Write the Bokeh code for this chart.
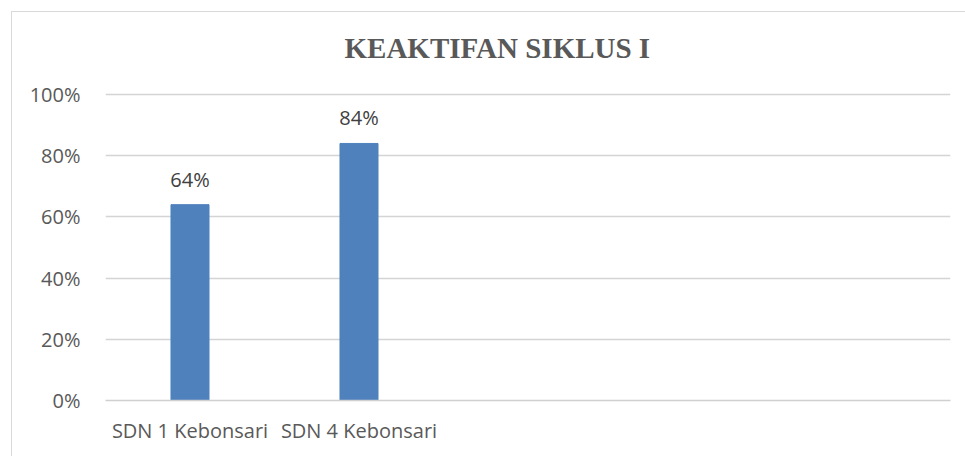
from bokeh.plotting import figure
from bokeh.models import FactorRange, Range1d, NumeralTickFormatter, ColumnDataSource, FixedTicker, LabelSet
from bokeh.core.properties import value
from bokeh.embed import file_html
from bokeh.resources import INLINE

title_text = "KEAKTIFAN SIKLUS I"
categories = ["SDN 1 Kebonsari", "SDN 4 Kebonsari"]
values = [0.64, 0.84]
value_labels = ["64%", "84%"]
empty_slots = [" ", "  ", "   "]
y_ticks = [0, 0.2, 0.4, 0.6, 0.8, 1.0]

src = ColumnDataSource(dict(x=categories, top=values, lab=value_labels))

factors = categories + empty_slots
p = figure(
    x_range=FactorRange(*factors, range_padding=0),
    y_range=Range1d(0, 1.085),
    width=954, height=445,
    frame_width=845, frame_height=332,
    output_backend="svg", toolbar_location=None,
    min_border_left=93, min_border_right=16, min_border_bottom=57, min_border_top=56,
)
p.margin = (11, 0, 0, 11)
p.styles = {"border-left": "1px solid #d9d9d9", "border-top": "1px solid #d9d9d9"}

p.title.text = title_text
p.title.text_font = "Liberation Serif"
p.title.text_font_style = "bold"
p.title.text_font_size = "29px"
p.title.text_color = "#595959"
p.title.align = "left"
p.title.offset = 239
p.title.standoff = 10

p.vbar(x="x", top="top", width=0.225, source=src, color="#4f81bd")

labels = LabelSet(x="x", y="top", text="lab", source=src, text_align="center",
                  text_baseline="alphabetic", y_offset=18,
                  text_font=value("Open Sans"), text_font_size=value("20px"),
                  text_color=value("#404040"))
p.add_layout(labels)

p.yaxis.ticker = FixedTicker(ticks=y_ticks)
p.yaxis.formatter = NumeralTickFormatter(format="0%")
p.yaxis.axis_line_color = None
p.yaxis.major_tick_line_color = None
p.yaxis.minor_tick_line_color = None
p.yaxis.major_label_standoff = 19
p.yaxis.major_label_text_font = "Open Sans"
p.yaxis.major_label_text_font_size = "20px"
p.yaxis.major_label_text_color = "#595959"

p.xaxis.axis_line_color = "#d0d0d0"
p.xaxis.axis_line_width = 1.5
p.xaxis.major_tick_line_color = None
p.xaxis.minor_tick_line_color = None
p.xaxis.major_label_standoff = 10
p.xaxis.major_label_text_font = "Open Sans"
p.xaxis.major_label_text_font_size = "20px"
p.xaxis.major_label_text_color = "#595959"

p.xgrid.grid_line_color = None
p.ygrid.grid_line_color = "#d4d4d4"
p.ygrid.grid_line_width = 1.5
p.outline_line_color = None
p.background_fill_color = "white"
p.border_fill_color = "white"

open("out.html", "w").write(file_html(p, INLINE))
